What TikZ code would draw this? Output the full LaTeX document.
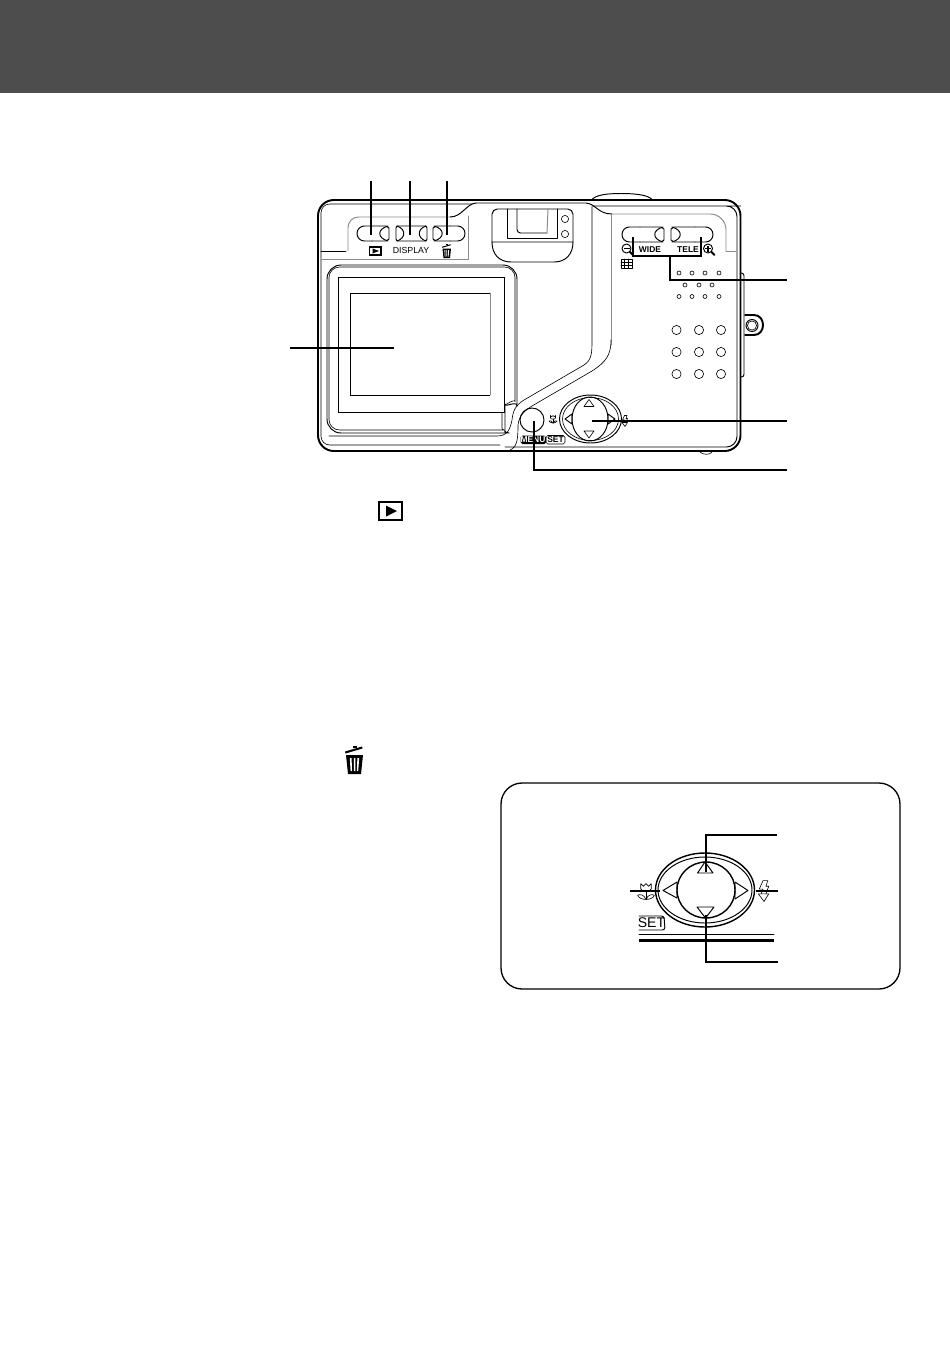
\documentclass[tikz,border=0pt]{standalone}
\usepackage{fontspec}
\setmainfont{Liberation Sans}
\usepackage{xcolor}
\usetikzlibrary{calc}
\definecolor{band}{HTML}{4D4D4D}
\definecolor{ink}{HTML}{000000}
\definecolor{soft}{HTML}{8A8A8A}
\tikzset{
  base/.style={draw=ink, line width=0.55pt, line cap=round, line join=round},
  hair/.style={draw=ink, line width=0.35pt, line cap=round, line join=round},
  gray/.style={draw=soft, line width=0.55pt, line cap=round, line join=round},
  body/.style={draw=ink, line width=1.1pt, line cap=round, line join=round},
  lead/.style={draw=ink, line width=0.95pt, line cap=butt, line join=miter},
  lab/.style={text=ink, inner sep=0pt, font=\fontsize{5}{5}\selectfont},
  labb/.style={text=ink, inner sep=0pt, font=\bfseries\fontsize{4.8}{5}\selectfont},
  trash/.pic={
    \fill[ink] (-9,-2.5) -- (8,-7.5) -- (8.5,-5.5) -- (-8.5,-0.5) -- cycle;
    \fill[ink] (-1,-6) rectangle (3,-8);
    \fill[ink] (-8,1) -- (9,1) -- (7,20) -- (-6,20) -- cycle;
    \fill[white] (-4.2,4) -- (-2.4,4) -- (-2,17) -- (-3.4,17) -- cycle;
    \fill[white] (-0.2,4) -- (1.4,4) -- (1.4,17) -- (0,17) -- cycle;
    \fill[white] (3.4,4) -- (5.2,4) -- (4.2,17) -- (2.8,17) -- cycle;
  },
  tulip/.pic={
    \draw[hair] (-5,-7) -- (-5,-2) .. controls (-4,1) and (4,1) .. (5,-2) -- (5,-7) -- (2.5,-4.5) -- (0,-7) -- (-2.5,-4.5) -- cycle;
    \draw[hair] (0,0) -- (0,8);
    \draw[hair] (0,8) .. controls (-2,3) and (-6,3) .. (-8,4) .. controls (-7,7) and (-3,8) .. (0,8);
    \draw[hair] (0,8) .. controls (2,3) and (6,3) .. (8,4) .. controls (7,7) and (3,8) .. (0,8);
  },
  flash/.pic={
    \draw[hair] (-1,-11) -- (-5,-2) -- (-1,-2) -- (-3,3) (-1,-11) -- (4,-11) -- (2,-5) -- (5,-5) -- (2,3);
    \draw[hair] (-6,3) -- (5,3) -- (0,11) -- cycle;
  },
  lensminus/.pic={
    \draw[base] (0,0) circle (4.5);
    \fill[ink] (-3,-0.8) rectangle (3,0.8);
    \draw[body] (3.2,3.2) -- (6.5,6.5);
  },
  lensplus/.pic={
    \draw[base] (0,0) circle (4.5);
    \fill[ink] (-3,-0.8) rectangle (3,0.8);
    \fill[ink] (-0.8,-3) rectangle (0.8,3);
    \draw[body] (3.2,3.2) -- (6.5,6.5);
  },
}

\begin{document}
\begin{tikzpicture}[x=0.02cm,y=-0.02cm]
  \useasboundingbox (0,0) rectangle (950,1346);
  \fill[band] (0,0) rectangle (950,93);

  % leader ends
  \coordinate (lcdEnd) at (394,348);
  \coordinate (lcdOut) at (290,348);
  \coordinate (zoomJoin) at (670,256);
  \coordinate (zoomOut) at (787,280);
  \coordinate (padEnd) at (592,421);
  \coordinate (padOut) at (787,421);
  \coordinate (menuEnd) at (534,421);
  \coordinate (menuOut) at (787,470);

  % body
  \draw[base] (592,199.5) .. controls (596,195) and (606,193.5) .. (621,193.5) .. controls (636,193.5) and (648,195) .. (652,199.5);
  \draw[body,fill=white,rounded corners=9pt] (318,200) -- (740.5,200) -- (740.5,451) -- (318,451) -- cycle;
  \draw[hair,rounded corners=5pt] (472,204) -- (321,204) -- (321,445) -- (500,445);
  \draw[base,rounded corners=6pt] (592,206) -- (730,206) -- (737,206) -- (737,447) -- (505,447);
  \draw[hair] (700,452) .. controls (703,455) and (710,455) .. (712,452);

  % right side grip and strap lug
  \draw[base,rounded corners=1.5pt] (741,273) -- (744,273) -- (744,377) -- (741,377);
  \draw[body] (745,315) -- (754,315) .. controls (766,315) and (766,335) .. (754,335) -- (745,335);
  \draw[base] (752,325.5) circle (6);
  \draw[hair] (752,325.5) circle (4.6);

  % button panel
  \draw[base] (321,251) -- (346,251);
  \draw[gray,rounded corners=6pt] (348,251) -- (348,217) -- (450,217);
  \draw[base] (450,217) .. controls (462,217) and (466,204) .. (476,203) -- (586,203) .. controls (596,204) and (598,214) .. (612,214);
  \draw[gray] (322,259) -- (468,259) -- (468,216);
  \draw[gray,rounded corners=9pt] (612,214) -- (726,214) -- (726,251);
  \draw[gray] (726,251) -- (736,251);
  \draw[gray] (611,214) -- (611,345);

  % viewfinder
  \draw[base,rounded corners=3pt] (492,242) -- (492,209) -- (573,209) -- (573,242);
  \draw[base] (492,242) .. controls (492,254) and (499,262) .. (511,262) -- (554,262) .. controls (566,262) and (573,254) .. (573,242) -- cycle;
  \draw[base] (507,209) -- (507,238) -- (557,238) -- (557,209);
  \draw[base,rounded corners=2pt] (517,209) -- (517,233) -- (547,233);
  \draw[gray,rounded corners=2pt] (547,233) -- (548,209);
  \foreach \Y in {219,234}
    \draw[hair] (565,\Y) circle (3.6);

  % keys on the panel
  \draw[base,rounded corners=4.2pt] (372,226) -- (357,226) -- (357,241) -- (372,241);
  \draw[base] (372,226) -- (386,226) -- (389,228) -- (389,239) -- (386,241) -- (372,241);
  \draw[base] (388,226) .. controls (377,229) and (377,238) .. (388,241);
  \draw[base,rounded corners=1.2pt] (396,226) rectangle (427,241);
  \draw[base] (397,226) .. controls (406,229) and (406,238) .. (397,241);
  \draw[base] (426,226) .. controls (417,229) and (417,238) .. (426,241);
  \draw[base] (450,226) -- (436,226) -- (433,228) -- (433,239) -- (436,241) -- (450,241);
  \draw[base,rounded corners=4.2pt] (450,226) -- (465,226) -- (465,241) -- (450,241);
  \draw[base] (434,226) .. controls (445,229) and (445,238) .. (434,241);
  \draw[line width=0.8pt] (369.5,247) rectangle (381,255);
  \fill[ink] (372.5,248.5) -- (372.5,253.5) -- (379,251) -- cycle;
  \node[lab] (displayLab) at (411,250.5) {DISPLAY};
  \pic[scale=0.5] at (446.5,248) {trash};

  % lcd
  \draw[base,rounded corners=8pt] (327,265) -- (517,265) -- (517,392) .. controls (517,400) and (505,408) .. (505,418) .. controls (505,428) and (503,433) .. (495,433) -- (327,433) -- cycle;
  \draw[hair,rounded corners=6pt] (329,267) -- (515,267) -- (515,391) .. controls (515,398) and (502,407) .. (502,418) .. controls (502,426) and (501,430) .. (494,430) -- (329,430) -- cycle;
  \draw[hair] (329,436) -- (497,436) .. controls (507,436) and (510,430) .. (512,420) .. controls (513,410) and (516,405) .. (524,400) -- (584,365) .. controls (592,360) and (592,352) .. (592,340) -- (592,207);
  \draw[hair] (510,450) .. controls (517,447) and (518,440) .. (518,425) .. controls (519,416) and (524,411) .. (532,406) -- (592,371) .. controls (606,362) and (611,355) .. (611,340);
  \fill[white] (338,277) rectangle (504,412);
  \draw[line width=0.5pt] (338,277) rectangle (504,412);
  \draw[line width=0.45pt] (490,293) -- (350,293) -- (350,395) -- (490,395);
  \draw[gray] (490,293) -- (490,395);

  % wide and tele
  \draw[base,rounded corners=4.2pt] (640,227) -- (622,227) -- (622,242) -- (640,242);
  \draw[base] (640,227) -- (661,227) -- (664,229) -- (664,240) -- (661,242) -- (640,242);
  \draw[base] (663,227) .. controls (652,230) and (652,239) .. (663,242);
  \draw[base] (695,227) -- (674,227) -- (671,229) -- (671,240) -- (674,242) -- (695,242);
  \draw[base,rounded corners=4.2pt] (695,227) -- (713,227) -- (713,242) -- (695,242);
  \draw[base] (672,227) .. controls (683,230) and (683,239) .. (672,242);
  \node[labb] (wideLab) at (650,249.5) {WIDE};
  \node[labb] (teleLab) at (688,249.5) {TELE};
  \pic at (626.5,248.5) {lensminus};
  \pic at (708,248.5) {lensplus};
  \draw[hair] (621,259) rectangle (632,268);
  \draw[hair] (621,262) -- (632,262) (621,265) -- (632,265) (624.5,259) -- (624.5,268) (628.5,259) -- (628.5,268);

  % speaker
  \foreach \X in {679,692,705,719} {
    \draw[hair] (\X,273) circle (2);
    \draw[hair] (\X,296.5) circle (2);
  }
  \foreach \X in {685,699,712}
    \draw[hair] (\X,285) circle (2);
  \foreach \X in {676.5,699,721}
    \foreach \Y in {330,352,374}
      \draw[hair] (\X,\Y) circle (4.6);

  % menu key and pad
  \draw[base] (532,420) circle (12);
  \fill[ink,rounded corners=1pt] (520.5,435.5) rectangle (546,444);
  \node[labb,text=white] (menuLab) at (533,439.8) {MENU};
  \draw[hair,rounded corners=1pt] (546,435.5) rectangle (565,444);
  \node[labb] (setLab) at (555.5,439.8) {SET};
  \pic[scale=0.5] at (553,419) {tulip};
  \pic[scale=0.5] at (625,421) {flash};
  \draw[base] (590.5,419) ellipse (31 and 24);
  \draw[hair] (590.5,419) ellipse (28 and 21.5);
  \draw[base] (590,419) ellipse (18 and 22);
  \draw[hair] (589,399.5) -- (584,406.5) -- (594,406.5) -- cycle;
  \draw[hair] (589,438) -- (584,431) -- (594,431) -- cycle;
  \draw[base] (565,419) -- (572,414) -- (572,424) -- cycle;
  \draw[base] (615,419) -- (608,414) -- (608,424) -- cycle;

  % leaders
  \foreach \X in {371,410,447}
    \draw[lead] (\X,181) -- (\X,235);
  \draw[lead] (lcdOut) -- (lcdEnd);
  \draw[lead] (633,237) -- (633,256) -- (701,256) -- (701,237);
  \draw[lead] (zoomJoin) |- (zoomOut);
  \draw[lead] (padEnd) -- (padOut);
  \draw[lead] (menuEnd) |- (menuOut);

  % inline icons
  \draw[line width=1.3pt] (379,502) rectangle (402,520);
  \fill[ink] (386,505.5) -- (386,516.5) -- (397,511) -- cycle;
  \pic at (354,754) {trash};

  % detail box
  \draw[line width=0.75pt,rounded corners=12pt] (501,783) rectangle (900,989);
  \fill[ink] (639,938.5) rectangle (774,941.5);
  \draw[hair] (639,934) -- (774,934);
  \draw[base,rounded corners=1.5pt] (639,916) -- (664,916) -- (665,930) -- (639,930);
  \node[lab,font=\fontsize{8}{8}\selectfont] (setBig) at (651.5,923) {SET};
  \pic[scale=1.05] at (646,891) {tulip};
  \pic[scale=0.95] at (764,891) {flash};
  \draw[line width=0.8pt] (705,890) ellipse (49.5 and 37);
  \draw[line width=0.55pt] (705,890) ellipse (47 and 33);
  \draw[line width=0.8pt] (706,890) ellipse (29 and 28);
  \draw[base] (705,862) -- (697.5,873) -- (713,873) -- cycle;
  \draw[base] (705.5,918) -- (697,907) -- (714,907) -- cycle;
  \draw[base] (663,890.5) -- (677,882) -- (677,898) -- cycle;
  \draw[base] (748,890.5) -- (735,882) -- (735,899) -- cycle;
  \coordinate (upEnd) at (706,872);
  \coordinate (upOut) at (777,835);
  \coordinate (downEnd) at (706,915);
  \coordinate (downOut) at (778,962);
  \draw[lead] (upEnd) |- (upOut);
  \draw[lead] (downEnd) |- (downOut);
  \draw[lead] (630,891) -- (660,891);
  \draw[lead] (756,891) -- (778,891);
\end{tikzpicture}
\end{document}
